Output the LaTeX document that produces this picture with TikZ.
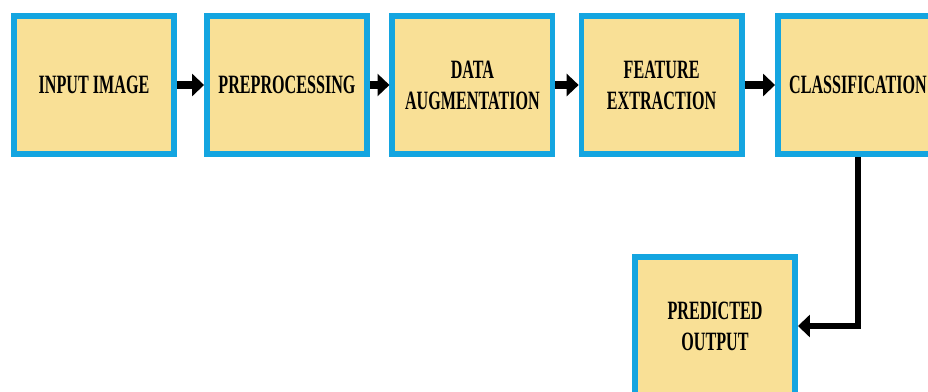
\documentclass[tikz,border=0pt]{standalone}
\usepackage{fontspec}
\usepackage{xcolor}
\usepackage{tikz}
\usetikzlibrary{arrows.meta}
\usetikzlibrary{calc}
\newfontfamily\stagefont[FakeStretch=0.61]{Liberation Serif}
\definecolor{boxcolor}{HTML}{F9E096}
\definecolor{bordercolor}{HTML}{14A5E0}
\tikzset{
  stagebox/.style={draw=bordercolor, fill=boxcolor, line width=3.9pt,
    minimum width=4.01cm, minimum height=3.46cm, align=center,
    font=\stagefont\bfseries\fontsize{18.8}{22}\selectfont},
  flow/.style={black, line width=5.7pt, -{Triangle[length=8.5pt,width=15.6pt]}}
}

\begin{document}
\begin{tikzpicture}
\useasboundingbox (0,0) rectangle (23.2,9.775);
%%\draw[step=1cm,color=gray!50,dotted] (0,0) grid (23.2,9.775);
\node[stagebox] (input) at (2.35,7.65) {INPUT IMAGE};
\node[stagebox] (prep) at (7.175,7.65) {PREPROCESSING};
\node[stagebox] (augm) at (11.81,7.65) {DATA\\AUGMENTATION};
\node[stagebox] (feat) at (16.54,7.65) {FEATURE\\EXTRACTION};
\node[stagebox] (clas) at (21.45,7.65) {CLASSIFICATION};
\node[stagebox] (pred) at (17.875,1.625) {PREDICTED\\OUTPUT};
\foreach \a/\b in {input/prep, prep/augm, augm/feat, feat/clas}
    \draw[flow] (\a.east) -- (\b.west);
%% output branch
\draw[flow, line width=4.3pt] (clas.south) |- (pred.east);
\end{tikzpicture}
\end{document}
